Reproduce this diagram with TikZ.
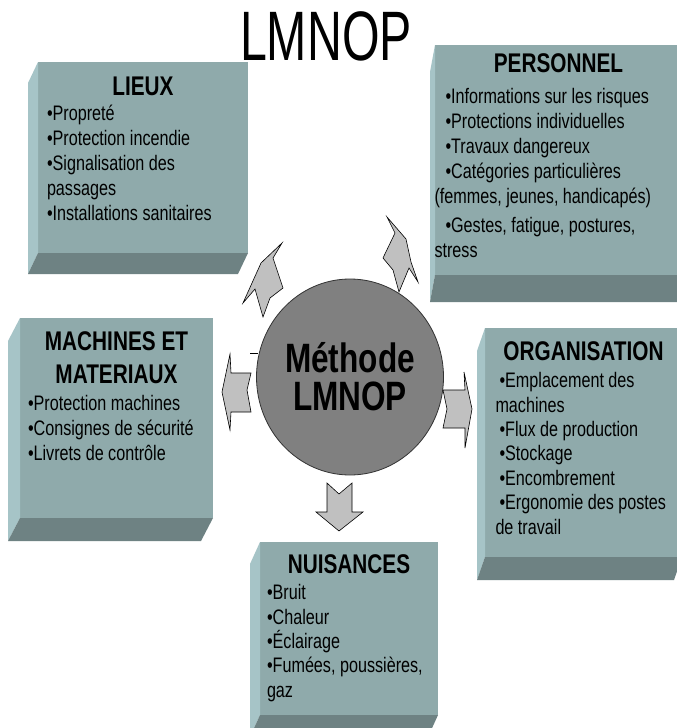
\documentclass[tikz,border=0pt]{standalone}
\usepackage{fontspec}
\setmainfont{Liberation Sans}[FakeStretch=0.77]
\newfontfamily\titlefont{Liberation Sans}[FakeStretch=0.69]
\usetikzlibrary{positioning,shapes.geometric}
\definecolor{slate}{RGB}{143,170,171}
\definecolor{slatelight}{RGB}{166,196,199}
\definecolor{slatedark}{RGB}{110,130,131}
\definecolor{hubgray}{RGB}{128,128,128}
\definecolor{arrowgray}{RGB}{192,192,192}
\setlength{\parindent}{0pt}
\newcommand{\boxhead}[1]{\makebox[\hsize]{\rule{0pt}{20pt}\bfseries\fontsize{27}{33}\selectfont #1}}
% side and bottom faces of a slab, #2 is the depth offset
\newcommand{\bevel}[2]{%
  \fill[slatelight] (#1.north west) -- ++(#2) -- ([shift={(#2)}]#1.south west) -- (#1.south west) -- cycle;
  \fill[slatedark] (#1.south west) -- (#1.south east) -- ([shift={(#2)}]#1.south east) -- ([shift={(#2)}]#1.south west) -- cycle;}

\begin{document}
\begin{tikzpicture}[x=1pt,y=-1pt,
  face/.style={fill=slate,inner sep=0pt,outer sep=0pt,anchor=north west},
  txt/.style={inner sep=0pt,text width=#1,align=flush left,font=\fontsize{21}{25}\selectfont},
  hub/.style={ellipse,fill=hubgray,draw=black!80,line width=0.8pt,minimum width=187,minimum height=196,
    inner sep=0pt,align=center,font=\bfseries\fontsize{41}{38}\selectfont},
  blockarrow/.style={fill=arrowgray,draw=black,line width=0.6pt}]
\path[use as bounding box,fill=white] (0,0) rectangle (677,728);

\node[font=\titlefont\fontsize{70}{70}\selectfont,anchor=base,inner sep=0pt] (title) at (326,60) {LMNOP};

% slabs
\node[face,minimum width=210,minimum height=191] (lieux) at (38,62) {};
\node[face,minimum width=247,minimum height=230] (pers) at (435,45) {};
\node[face,minimum width=193,minimum height=200] (mach) at (20,318) {};
\node[face,minimum width=197,minimum height=229] (orga) at (485,328) {};
\node[face,minimum width=178,minimum height=173] (nuis) at (260,542) {};
\bevel{lieux}{-10,21}
\bevel{pers}{-5,27}
\bevel{mach}{-12,23}
\bevel{orga}{-8,23}
\bevel{nuis}{-10,22}

\node[txt=192,below=13pt of lieux.north] (lieuxtxt) {\boxhead{LIEUX}\\
  •Propreté\\ •Protection incendie\\ •Signalisation des\\ passages\\ •Installations sanitaires};
\node[txt=248,below=7pt of pers.north] (perstxt) {\boxhead{PERSONNEL}\\[6pt]
  \hspace*{11pt}•Informations sur les risques\\
  \hspace*{11pt}•Protections individuelles\\
  \hspace*{11pt}•Travaux dangereux\\
  \hspace*{11pt}•Catégories particulières\\
  (femmes, jeunes, handicapés)\\[4pt]
  \hspace*{11pt}•Gestes, fatigue, postures,\\
  stress};
\node[txt=177,below=12pt of mach.north] (machtxt) {\boxhead{MACHINES ET}\\[8pt]
  \boxhead{MATERIAUX}\\[2pt]
  •Protection machines\\ •Consignes de sécurité\\ •Livrets de contrôle};
\node[txt=176,below=12pt of orga.north,font=\fontsize{21}{24.4}\selectfont] (orgatxt) {\boxhead{ORGANISATION}\\[3pt]
  \hspace*{4pt}•Emplacement des\\ machines\\ \hspace*{4pt}•Flux de production\\ \hspace*{4pt}•Stockage\\
  \hspace*{4pt}•Encombrement\\ \hspace*{4pt}•Ergonomie des postes\\ de travail};
\node[txt=164,below=11pt of nuis.north,font=\fontsize{21}{24.4}\selectfont] (nuistxt) {\boxhead{NUISANCES}\\[2pt]
  •Bruit\\ •Chaleur\\ •Éclairage\\ •Fumées, poussières,\\ gaz};

\node[hub] (hub) at (350,377) {Méthode\\LMNOP};

% arrows around the hub
\draw[blockarrow] (282,243) -- (273,258) -- (283,288) -- (270,298) -- (263,317) -- (255,289) -- (243,303) -- (261,263) -- cycle;
\draw[blockarrow] (387,217) -- (406,239) -- (411,262) -- (418,282) -- (409,268) -- (399,292) -- (393,270) -- (383,258) -- (395,233) -- cycle;
\draw[blockarrow] (222,392) -- (230,354) -- (231,373) -- (251,373) -- (247,390) -- (251,412) -- (231,412) -- (230,430) -- cycle;
\draw[blockarrow] (443,390) -- (465,390) -- (464,372) -- (472,409) -- (465,448) -- (465,428) -- (443,428) -- (447,409) -- cycle;
\draw[blockarrow] (327,483) -- (339,494) -- (352,483) -- (352,512) -- (363,512) -- (339,531) -- (316,512) -- (327,512) -- cycle;
\draw[line width=1pt] (250,353) -- (258,353);
\end{tikzpicture}
\end{document}
